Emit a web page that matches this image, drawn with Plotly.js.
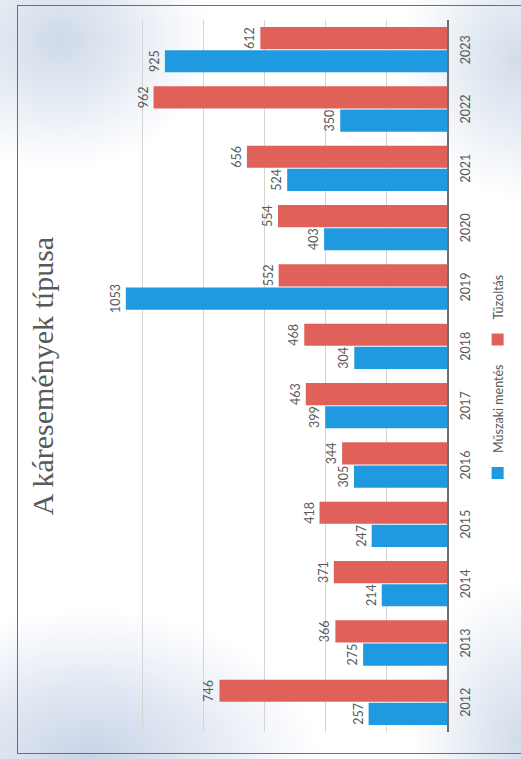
<!DOCTYPE html>
<html>
<head>
<meta charset="utf-8">
<script src="https://cdn.plot.ly/plotly-3.0.1.min.js"></script>
<style>
html,body{margin:0;padding:0;width:521px;height:759px;overflow:hidden;background:#fbfcfd;}
#bg{position:absolute;left:0;top:0;width:521px;height:759px;
 background:
  radial-gradient(ellipse 150px 130px at 60px 40px, rgba(190,205,225,0.75), rgba(190,205,225,0) 100%),
  radial-gradient(ellipse 120px 140px at 521px 60px, rgba(190,205,225,0.7), rgba(190,205,225,0) 100%),
  radial-gradient(ellipse 230px 150px at 90px 759px, rgba(185,200,225,0.8), rgba(185,200,225,0) 100%),
  radial-gradient(ellipse 110px 160px at 521px 740px, rgba(190,205,225,0.7), rgba(190,205,225,0) 100%),
  #ffffff;}
#frame{position:absolute;left:17px;top:5px;width:520px;height:749px;border:1.5px solid #6e6e6e;box-sizing:border-box;}
#chart{position:absolute;left:0;top:759px;width:759px;height:521px;transform-origin:0 0;}
</style>
</head>
<body>
<div id="bg"></div>
<div id="frame"></div>
<div id="chart"></div>
<script>
const years = ["2012","2013","2014","2015","2016","2017","2018","2019","2020","2021","2022","2023"];
const muszakiMentes = [257, 275, 214, 247, 305, 399, 304, 1053, 403, 524, 350, 925];
const tuzoltas = [746, 366, 371, 418, 344, 463, 468, 552, 554, 656, 962, 612];
const seriesNames = ["Műszaki mentés", "Tűzoltás"];
const titleText = "A káresemények típusa";

const labelFont = {family: "Lato, 'Noto Sans', sans-serif", size: 12.5, color: "#595959"};

const traces = [
  {
    type: "bar", name: seriesNames[0], x: years, y: muszakiMentes,
    marker: {color: "#1f99df"},
    text: muszakiMentes.map(String), textposition: "outside", textangle: 0,
    constraintext: "none", cliponaxis: false, textfont: labelFont,
    hoverinfo: "skip"
  },
  {
    type: "bar", name: seriesNames[1], x: years, y: tuzoltas,
    marker: {color: "#e0605a"},
    text: tuzoltas.map(String), textposition: "outside", textangle: 0,
    constraintext: "none", cliponaxis: false, textfont: labelFont,
    hoverinfo: "skip"
  }
];

const layout = {
  width: 759, height: 521,
  margin: {l: 27, r: 20, t: 81, b: 74},
  paper_bgcolor: "rgba(0,0,0,0)",
  plot_bgcolor: "rgba(0,0,0,0)",
  barmode: "group",
  bargap: 0.22,
  bargroupgap: 0.04,
  title: {
    text: titleText,
    font: {family: "'Liberation Serif', 'DejaVu Serif', serif", size: 30, color: "#595959"},
    x: 0.5, xanchor: "center", xref: "paper",
    y: 1 - 42/521, yanchor: "middle", yref: "container"
  },
  xaxis: {
    type: "category",
    showline: true, linecolor: "#6f6f6f", linewidth: 1.5,
    ticks: "outside", ticklen: 6, tickcolor: "rgba(0,0,0,0)",
    showgrid: false, zeroline: false,
    tickfont: labelFont
  },
  yaxis: {
    range: [0, 1200], dtick: 200,
    showticklabels: false, ticks: "",
    showgrid: true, gridcolor: "#d4d4d4", gridwidth: 1,
    zeroline: false, showline: false
  },
  showlegend: true,
  legend: {
    orientation: "h", x: 0.493, xanchor: "center", xref: "paper",
    y: 1 - 498/521, yanchor: "middle", yref: "container",
    font: labelFont, bgcolor: "rgba(0,0,0,0)"
  }
};

Plotly.newPlot("chart", traces, layout, {displayModeBar: false, staticPlot: true}).then(function () {
  document.getElementById("chart").style.transform = "rotate(-90deg)";
});
</script>
</body>
</html>
